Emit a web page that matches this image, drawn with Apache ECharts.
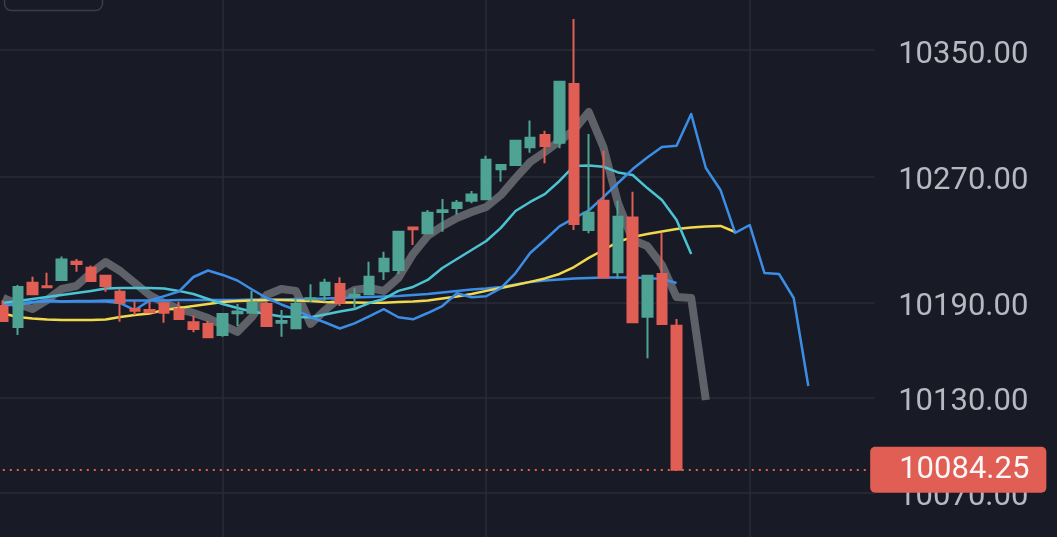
<!DOCTYPE html>
<html>
<head>
<meta charset="utf-8">
<script src="https://cdn.jsdelivr.net/npm/echarts@6/dist/echarts.min.js"></script>
<style>
html,body{margin:0;padding:0;background:#181b25;}
#chart{width:1057px;height:537px;}
</style>
</head>
<body>
<div id="chart"></div>
<script>
// ---- data ----
var categories = ['1','2','3','4','5','6','7','8','9','10','11','12','13','14','15','16','17','18','19','20',
  '21','22','23','24','25','26','27','28','29','30','31','32','33','34','35','36','37','38','39','40',
  '41','42','43','44','45','46','47','48','49','50','51','52','53','54','55','56','57','58','59','60'];

// [open, close, low, high]
var candles = [
  [10188.0,10178.5,10177.8,10191.5],[10174.6,10200.0,10169.6,10201.2],[10202.7,10195.3,10195.3,10206.5],
  [10200.5,10199.8,10199.8,10209.0],[10204.4,10217.3,10204.4,10219.2],[10216.0,10214.5,10209.6,10217.7],
  [10212.2,10203.8,10203.8,10213.5],[10207.1,10200.6,10197.0,10207.1],[10197.0,10190.0,10178.0,10198.5],
  [10186.0,10185.0,10182.3,10191.0],[10185.4,10184.0,10183.3,10191.0],[10189.7,10183.7,10177.4,10190.0],
  [10185.9,10179.7,10179.7,10190.6],[10177.6,10173.4,10171.3,10181.8],[10176.5,10168.1,10168.0,10178.5],
  [10169.6,10182.9,10168.5,10183.0],[10183.3,10184.4,10175.3,10189.2],[10183.7,10190.0,10183.7,10197.6],
  [10189.2,10175.3,10175.3,10190.6],[10177.4,10178.5,10168.5,10185.4],[10173.8,10189.2,10173.8,10192.4],
  [10192.0,10192.8,10190.6,10201.7],[10194.9,10202.7,10190.6,10205.2],[10201.9,10190.0,10188.0,10206.1],
  [10194.0,10195.0,10185.9,10199.2],[10195.3,10206.5,10195.3,10216.0],[10209.9,10217.9,10204.4,10222.3],
  [10210.7,10235.0,10208.2,10235.0],[10237.7,10236.5,10226.5,10237.7],[10234.0,10247.0,10234.0,10248.7],
  [10247.5,10248.5,10235.0,10255.7],[10250.0,10253.3,10245.8,10255.0],[10254.6,10258.6,10253.0,10260.7],
  [10255.5,10280.5,10255.5,10283.1],[10274.5,10277.2,10266.6,10277.5],[10277.2,10292.6,10277.2,10292.6],
  [10288.4,10294.5,10285.0,10305.3],[10296.2,10289.2,10278.3,10298.9],[10291.3,10329.9,10287.8,10330.0],
  [10328.5,10239.9,10236.0,10369.6],[10236.0,10247.0,10234.0,10296.8],[10254.6,10205.9,10205.9,10286.2],
  [10209.3,10244.5,10205.2,10254.6],[10243.9,10177.6,10177.6,10260.3],[10181.2,10207.1,10154.8,10207.1],
  [10208.2,10176.5,10176.5,10234.3],[10175.5,10084.25,10084.25,10179.7]
];

var maGray = [10193.0,10189.2,10186.0,10191.7,10198.7,10200.6,10208.9,10215.8,10210.1,10202.5,
  10194.9,10189.8,10186.0,10183.5,10180.3,10175.9,10171.5,10181.0,10194.9,10198.7,
  10197.5,10176.6,10185.4,10193.0,10198.1,10199.3,10197.5,10205.7,10220.9,10232.3,
  10238.6,10243.6,10247.4,10250.6,10258.2,10268.9,10279.1,10285.4,10292.4,10299.4,
  10310.8,10288.6,10253.1,10229.7,10225.9,10213.9,10193.6,10193.0,10128.4];

var maCyan = [10189.8,10191.1,10192.4,10193.6,10194.9,10196.2,10197.5,10199.0,10199.4,10199.4,
  10199.4,10199.0,10197.5,10195.5,10192.4,10189.2,10186.7,10184.5,10182.9,10181.3,
  10181.0,10180.8,10182.6,10184.5,10186.0,10189.8,10192.4,10197.5,10200.0,10204.4,
  10212.0,10217.7,10223.4,10229.1,10237.4,10248.1,10253.8,10258.8,10267.1,10276.6,
  10276.9,10276.1,10272.5,10270.9,10262.6,10255.0,10242.4,10220.9];

var maYellow = [10183.2,10181.0,10180.0,10179.4,10179.1,10179.1,10179.1,10179.4,10181.0,10182.3,
  10183.2,10185.4,10186.7,10188.0,10189.2,10190.5,10191.1,10191.4,10191.7,10191.7,
  10191.4,10191.1,10190.5,10190.2,10190.2,10190.0,10190.0,10190.5,10190.8,10191.4,
  10192.7,10193.9,10195.5,10197.5,10199.3,10201.2,10203.2,10205.4,10208.2,10212.6,
  10218.4,10223.4,10228.5,10231.6,10233.5,10235.1,10236.7,10237.6,10238.2,10238.6,10234.8];

var maBlueLead = [10188.6,10188.6,10190.2,10191.7,10190.8,10190.8,10190.8,10190.8,10189.8,10185.4,
  10191.4,10194.2,10197.1,10206.3,10210.4,10207.6,10204.1,10198.4,10193.0,10188.9,
  10185.4,10181.0,10177.5,10173.7,10176.9,10181.3,10185.9,10180.8,10179.5,10183.5,
  10187.9,10196.0,10193.5,10194.1,10199.3,10208.8,10221.5,10229.7,10238.3,10243.6,
  10248.4,10256.9,10265.8,10274.6,10281.9,10288.6,10289.4,10309.5,10275.3,10261.4,
  10234.2,10239.2,10208.9,10208.2,10193.0,10137.3];

var maBlueFlat = [10188.3,10189.5,10190.5,10190.8,10190.8,10191.1,10191.1,10191.4,10191.4,10191.4,
  10191.4,10191.4,10191.7,10191.7,10191.7,10191.7,10191.7,10192.1,10192.1,10192.1,
  10192.4,10192.4,10192.7,10193.0,10193.3,10193.6,10194.0,10194.3,10194.9,10195.5,
  10196.5,10197.5,10198.4,10199.0,10200.0,10201.6,10203.2,10204.1,10204.7,10205.4,
  10205.7,10205.9,10205.9,10205.9,10205.7,10205.0,10202.5];

var priceTicks = [10350, 10270, 10190, 10130, 10070];
var timeGridCats = ['16', '34', '52'];
var lastPrice = 10084.25;
var yMin = 10041.7, yMax = 10381.65;

// ---- chart ----
var UP = '#4fa394', DOWN = '#e15e55';
var GRID = '#292c36';
var chart = echarts.init(document.getElementById('chart'), null, {renderer: 'canvas'});

function lineSeries(name, data, color, width, z) {
  return {
    name: name, type: 'line', data: data, symbol: 'none', showSymbol: false,
    silent: true, z: z, animation: false,
    lineStyle: {color: color, width: width, join: 'round'}
  };
}

var option = {
  backgroundColor: '#181b25',
  animation: false,
  textStyle: {fontFamily: 'Roboto'},
  grid: {left: -4.2, top: 0, bottom: 0, right: 182.8, containLabel: false, outerBoundsMode: 'none'},
  xAxis: {
    type: 'category', data: categories, boundaryGap: true,
    axisLine: {show: false}, axisTick: {show: false}, axisLabel: {show: false}, splitLine: {show: false}
  },
  yAxis: {
    type: 'value', min: yMin, max: yMax, show: false, scale: true, splitLine: {show: false}
  },
  graphic: [{
    type: 'rect', left: 2, top: -30, silent: true,
    shape: {x: 0, y: 0, width: 98, height: 38, r: 7},
    style: {fill: 'none', stroke: '#3a3d47', lineWidth: 1.5}
  }],
  series: [
    {
      name: 'grid', type: 'line', data: [], clip: false, silent: true, z: 0,
      markLine: {
        silent: true, symbol: ['none', 'none'], animation: false, z: 0,
        lineStyle: {color: GRID, width: 1.5, type: 'solid'},
        label: {
          show: true, position: 'end', distance: 24, color: '#b6b9c1',
          fontSize: 31, fontFamily: 'Roboto', offset: [0, 5],
          formatter: function (p) { return p.data.yAxis != null ? Number(p.data.yAxis).toFixed(2) : ''; }
        },
        data: priceTicks.map(function (v) { return {yAxis: v}; })
          .concat(timeGridCats.map(function (c) { return {xAxis: c, label: {show: false}}; }))
      }
    },
    lineSeries('MA-gray', maGray, '#5f6168', 8, 2),
    lineSeries('MA-flat', maBlueFlat, '#3c8de6', 2.5, 3),
    lineSeries('MA-yellow', maYellow, '#f1d84c', 2.5, 3),
    lineSeries('MA-cyan', maCyan, '#4cc3d2', 2.5, 3),
    lineSeries('MA-lead', maBlueLead, '#3c8de6', 2.5, 3),
    {
      name: 'K', type: 'candlestick', data: candles, z: 5, barWidth: 10, silent: true,
      itemStyle: {color: UP, color0: DOWN, borderColor: UP, borderColor0: DOWN, borderWidth: 2}
    },
    {
      name: 'last', type: 'line', data: [], clip: false, silent: true, z: 8,
      markLine: {
        silent: true, symbol: ['none', 'none'], animation: false, z: 8,
        lineStyle: {color: DOWN, width: 2, type: [2, 5]},
        label: {
          show: true, position: 'end', distance: -4, color: '#f7f7f7',
          fontSize: 31, fontFamily: 'Roboto', lineHeight: 30,
          backgroundColor: DOWN, borderRadius: 5, padding: [8, 17, 8, 29],
          formatter: function () { return lastPrice.toFixed(2); }
        },
        data: [{yAxis: lastPrice}]
      }
    }
  ]
};
chart.setOption(option);
</script>
</body>
</html>
